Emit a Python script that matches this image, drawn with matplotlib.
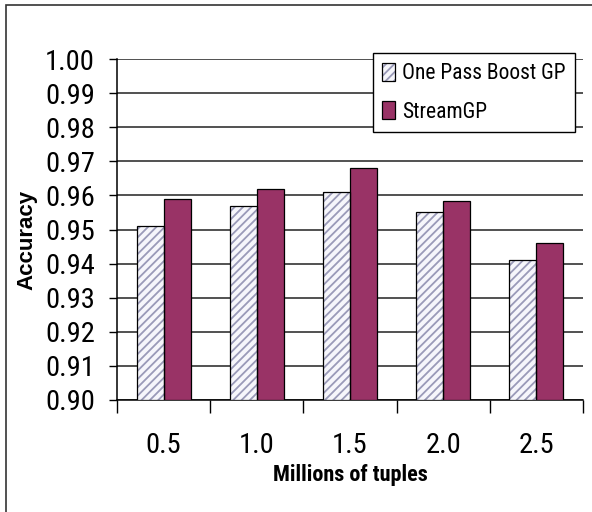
import matplotlib
matplotlib.use("Agg")
import matplotlib.pyplot as plt
from matplotlib.patches import Rectangle, Patch
from matplotlib.legend_handler import HandlerTuple
import numpy as np

# Accuracy per data size
sizes = ["0.5", "1.0", "1.5", "2.0", "2.5"]
one_pass = [0.951, 0.957, 0.961, 0.955, 0.941]
stream_gp = [0.959, 0.962, 0.968, 0.9585, 0.946]
series_names = ["One Pass Boost GP", "StreamGP"]
y_ticks = [0.90, 0.91, 0.92, 0.93, 0.94, 0.95, 0.96, 0.97, 0.98, 0.99, 1.00]

narrow = ["Roboto Condensed", "Archivo Narrow", "DejaVu Sans"]
narrow_bold = ["Roboto Condensed", "Asap Condensed", "DejaVu Sans"]
hatch_col = "#9a9ab8"
light = "#f6f6fb"
plum = "#993366"
plt.rcParams["hatch.linewidth"] = 1.3

fig = plt.figure(figsize=(5.92, 5.12), dpi=100)
ax = fig.add_axes([117 / 592, 1 - 400 / 512, 466 / 592, 341 / 512])

x = np.arange(len(sizes))
w = 0.29
base = y_ticks[0]
h1 = np.array(one_pass) - base
h2 = np.array(stream_gp) - base
# hatch drawn in its own colour, outline added on top in black
ax.bar(x - w / 2, h1, w, bottom=base, color=light, edgecolor=hatch_col,
       linewidth=0, hatch="////", zorder=3)
ax.bar(x - w / 2, h1, w, bottom=base, fill=False, edgecolor="black",
       linewidth=0.9, zorder=4)
ax.bar(x + w / 2, h2, w, bottom=base, color=plum, edgecolor="black",
       linewidth=0.9, zorder=3)

ax.set_xlim(-0.5, len(sizes) - 0.5)
ax.set_ylim(y_ticks[0], y_ticks[-1])
ax.set_yticks(y_ticks)
ax.set_yticklabels([f"{v:.2f}" for v in y_ticks], family=narrow, fontsize=20.5)
ax.set_xticks(x)
ax.set_xticklabels(sizes, family=narrow, fontsize=20.5)
ax.set_xticks(np.arange(len(sizes) + 1) - 0.5, minor=True)
ax.tick_params(axis="x", which="major", length=0, pad=23)
ax.tick_params(axis="x", which="minor", length=9, width=1, direction="out")
ax.tick_params(axis="y", length=6, width=1, direction="out", pad=10)

ax.yaxis.grid(True, color="#222222", linewidth=1.1, zorder=0)
ax.set_axisbelow(True)
for s in ["top", "right"]:
    ax.spines[s].set_visible(False)
ax.spines["left"].set_linewidth(1.1)
ax.spines["bottom"].set_linewidth(1.1)

ax.set_xlabel("Millions of tuples", family=narrow_bold, fontsize=16,
              fontweight="bold", labelpad=4)
ax.set_ylabel("Accuracy", family="Liberation Sans", fontsize=16, fontweight="bold")
ax.yaxis.set_label_coords(-0.17, 0.47)

handles = [(Patch(facecolor=light, edgecolor=hatch_col, hatch="////", linewidth=0),
            Patch(fill=False, edgecolor="black", linewidth=0.9)),
           Patch(facecolor=plum, edgecolor="black", linewidth=0.9)]
leg = ax.legend(handles, series_names, loc="upper right",
                handler_map={tuple: HandlerTuple(ndivide=1, pad=0)},
                bbox_to_anchor=(575 / 592, 1 - 53 / 512), bbox_transform=fig.transFigure,
                prop={"family": narrow, "size": 15.5}, frameon=True, fancybox=False,
                edgecolor="black", framealpha=1, handlelength=0.6, handleheight=0.9,
                handletextpad=0.3, borderpad=0.45, labelspacing=0.8, borderaxespad=0)
leg.get_frame().set_linewidth(1.0)

# outer frame around the chart
fig.patches.append(Rectangle((6 / 592, -0.05), 1.0, 1 - 5 / 512 + 0.05,
                             transform=fig.transFigure, fill=False,
                             edgecolor="#333333", linewidth=1.2))

fig.savefig("out.png", dpi=100)
